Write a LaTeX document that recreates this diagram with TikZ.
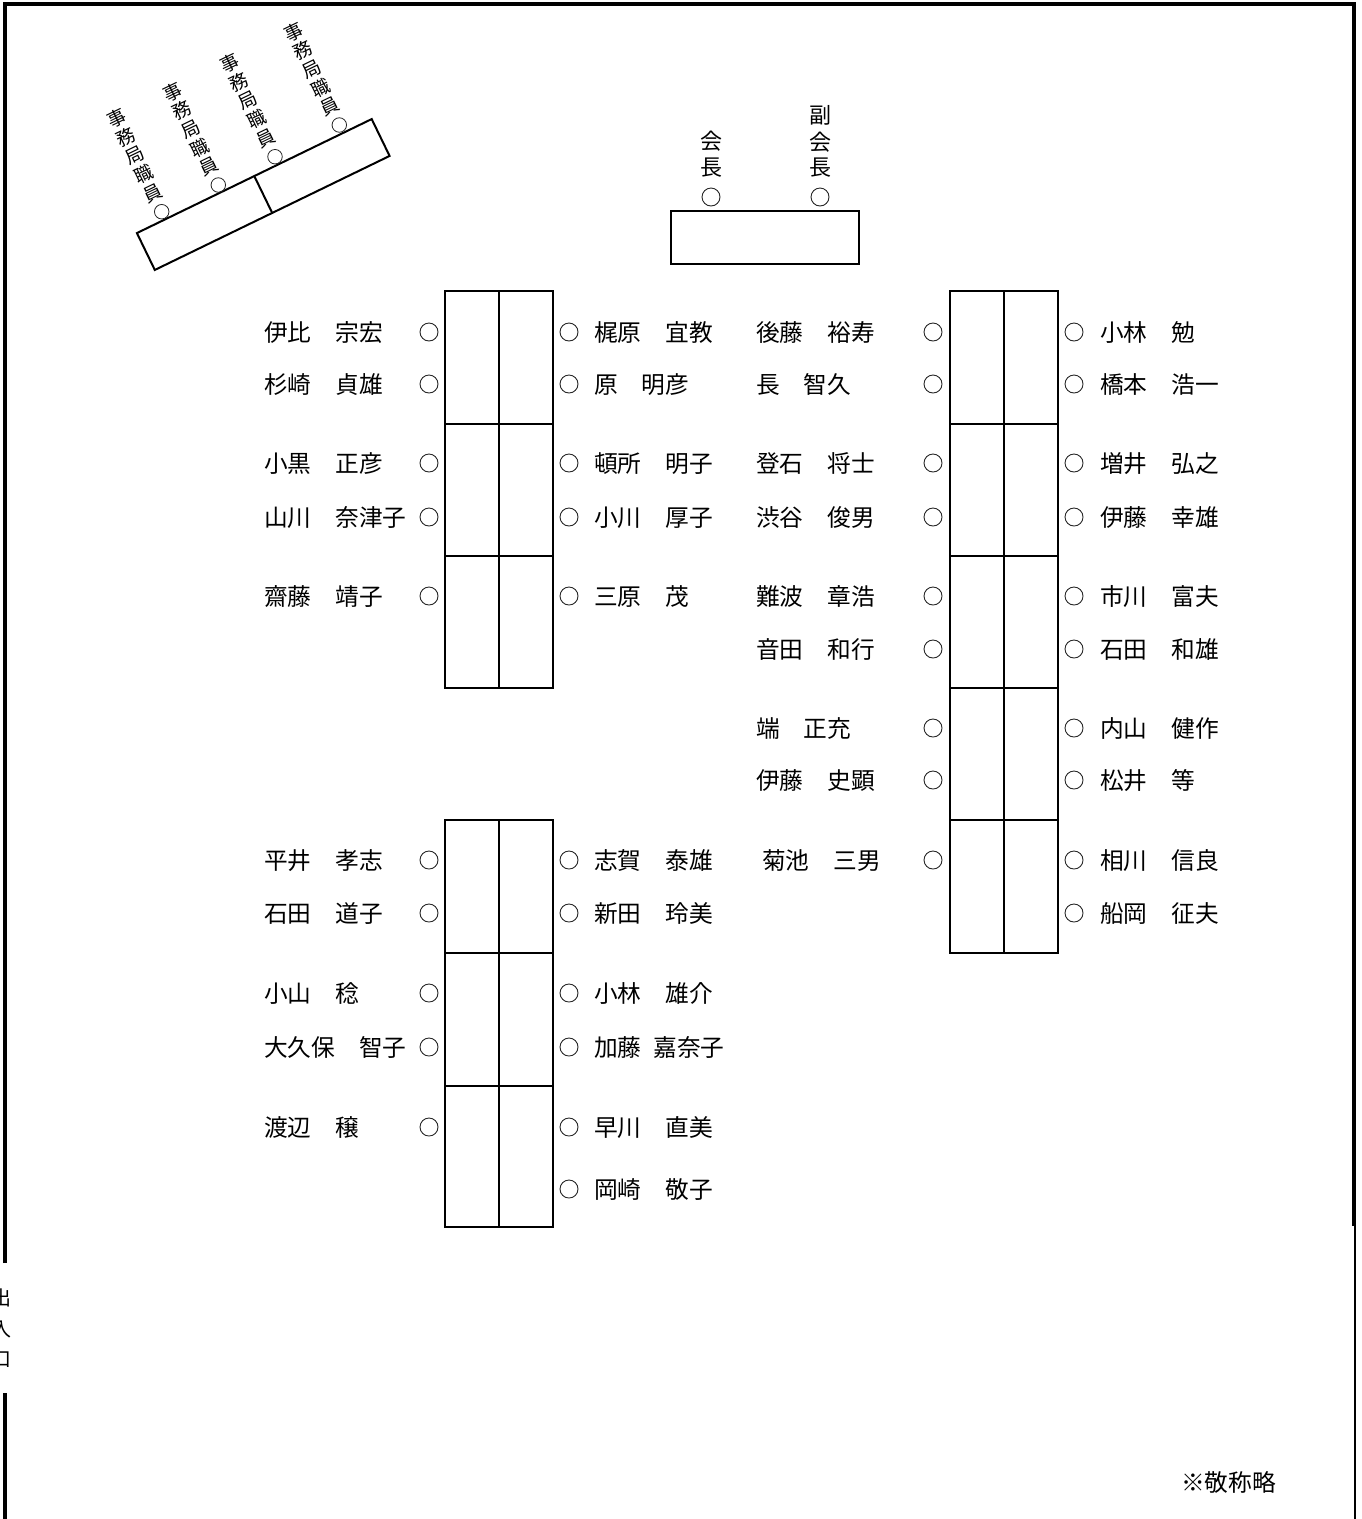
\documentclass[tikz,border=0pt]{standalone}
\usepackage{fontspec}
\setmainfont{Noto Sans CJK JP}
\begin{document}
\begin{tikzpicture}[x=1pt,y=-1pt,
  nm/.style={anchor=west, inner sep=0pt, font=\fontsize{23.7}{24}\selectfont, text height=20.9pt, text depth=2.8pt},
  seat/.style={circle, draw=black!85, line width=0.9pt, minimum size=18pt, inner sep=0pt},
  sseat/.style={circle, draw=black!85, line width=0.8pt, minimum size=14.5pt, inner sep=0pt},
  tbl/.style={draw=black, line width=2pt},
  wall/.style={draw=black, line width=4.2pt},
  vch/.style={inner sep=0pt, font=\fontsize{22}{22}\selectfont},
  sch/.style={inner sep=0pt, font=\fontsize{18.5}{19}\selectfont},
  dch/.style={inner sep=0pt, font=\fontsize{20}{20}\selectfont},
]
\useasboundingbox (0,0) rectangle (1361,1519);

% walls
\draw[wall, line join=miter] (4.7,1263) -- (4.7,4) -- (1354,4) -- (1354,1226);
\draw[wall] (4.7,1393) -- (4.7,1521);
\draw[draw=black, line width=1.8pt] (1354.6,1224) -- (1354.6,1521);

% entrance
\node[dch] (door1) at (1,1298) {出};
\node[dch] (door2) at (1,1329) {入};
\node[dch] (door3) at (1,1360) {口};

% head table
\draw[tbl] (671,211) rectangle (859,264);
\node[vch] (p1) at (711,141) {会};
\node[vch] (p2) at (711,168) {長};
\node[seat] (ps) at (711,197) {};
\node[vch] (v1) at (820,115) {副};
\node[vch] (v2) at (820,142) {会};
\node[vch] (v3) at (820,168) {長};
\node[seat] (vs) at (820,197) {};

% secretariat table (rotated)
\begin{scope}[shift={(263.25,194.5)}, rotate=25.9]
  \draw[tbl] (-130.5,-20.5) rectangle (130.5,20.5);
  \draw[tbl] (0,-20.5) -- (0,20.5);
\end{scope}
\foreach \cx/\cy [count=\i] in {161.7/211.7, 218.3/185, 275/156.7, 339.3/125} {
  \node[sseat] (st\i) at (\cx,\cy) {};
  \begin{scope}[shift={(\cx,\cy)}, rotate=25.9, transform shape]
    \foreach \c [count=\k] in {員,職,局,務,事}
      \node[sch] (st\i c\k) at (0,-20.7*\k) {\c};
  \end{scope}
}

% tables
\draw[tbl] (445,291) rectangle (553,688);
\draw[tbl] (499,291) -- (499,688);
\draw[tbl] (445,424) -- (553,424);
\draw[tbl] (445,556) -- (553,556);

\draw[tbl] (950,291) rectangle (1058,953);
\draw[tbl] (1004,291) -- (1004,953);
\foreach \yy in {424,556,688,820} \draw[tbl] (950,\yy) -- (1058,\yy);

\draw[tbl] (445,820) rectangle (553,1227);
\draw[tbl] (499,820) -- (499,1227);
\draw[tbl] (445,953) -- (553,953);
\draw[tbl] (445,1086) -- (553,1086);

% upper-left block, left side
\foreach \yy/\t [count=\i] in {332/伊比　宗宏, 384/杉崎　貞雄, 463/小黒　正彦, 517/山川　奈津子, 596/齋藤　靖子} {
  \node[nm] (a\i) at (264,\yy) {\t};
  \node[seat] (as\i) at (429,\yy) {};
}
% upper-left block, right side
\foreach \yy/\t [count=\i] in {332/梶原　宜教, 384/原　明彦, 463/頓所　明子, 517/小川　厚子, 596/三原　茂} {
  \node[seat] (bs\i) at (569,\yy) {};
  \node[nm] (b\i) at (594,\yy) {\t};
}
% center block, left side
\foreach \yy/\t [count=\i] in {332/後藤　裕寿, 384/長　智久, 463/登石　将士, 517/渋谷　俊男, 596/難波　章浩, 649/音田　和行, 728/端　正充, 780/伊藤　史顕} {
  \node[nm] (c\i) at (756,\yy) {\t};
  \node[seat] (cs\i) at (933,\yy) {};
}
\node[nm] (c9) at (762,860) {菊池　三男};
\node[seat] (cs9) at (933,860) {};
% center block, right side
\foreach \yy/\t [count=\i] in {332/小林　勉, 384/橋本　浩一, 463/増井　弘之, 517/伊藤　幸雄, 596/市川　富夫, 649/石田　和雄, 728/内山　健作, 780/松井　等, 860/相川　信良, 913/船岡　征夫} {
  \node[seat] (ds\i) at (1074,\yy) {};
  \node[nm] (d\i) at (1100,\yy) {\t};
}
% lower-left block, left side
\foreach \yy/\t [count=\i] in {860/平井　孝志, 913/石田　道子, 993/小山　稔, 1047/大久保　智子, 1127/渡辺　穣} {
  \node[nm] (e\i) at (264,\yy) {\t};
  \node[seat] (es\i) at (429,\yy) {};
}
% lower-left block, right side
\foreach \yy/\t [count=\i] in {860/志賀　泰雄, 913/新田　玲美, 993/小林　雄介, 1047/加藤\hspace{0.5em}嘉奈子, 1127/早川　直美, 1189/岡崎　敬子} {
  \node[seat] (fs\i) at (569,\yy) {};
  \node[nm] (f\i) at (594,\yy) {\t};
}

\node[nm] (note) at (1181,1482) {※敬称略};
\end{tikzpicture}
\end{document}
